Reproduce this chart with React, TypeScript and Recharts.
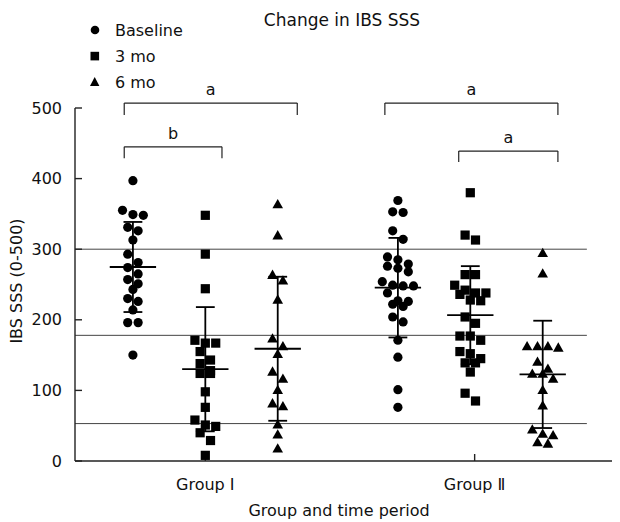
import React from "react";
import {
  Customized,
  ReferenceLine,
  Scatter,
  ScatterChart,
  XAxis,
  YAxis,
} from "recharts";

// categories
const groups = ["Group Ⅰ", "Group Ⅱ"];
const groupTicks = [1, 4.72];
const periods = ["Baseline", "3 mo", "6 mo"];
const columnCenters = [0, 1, 2, 3.66, 4.66, 5.66];

// IBS SSS per patient
const g1Baseline = [397, 355, 348, 349, 331, 326, 313, 293, 281, 274, 265, 257, 251, 243, 230, 226, 214, 196, 196, 150];
const g1Month3 = [348, 293, 244, 171, 167, 167, 155, 143, 138, 128, 124, 124, 98, 76, 58, 51, 49, 40, 29, 8];
const g1Month6 = [364, 320, 264, 256, 229, 174, 163, 152, 127, 117, 101, 82, 78, 52, 38, 18];
const g2Baseline = [369, 353, 352, 326, 314, 289, 285, 279, 276, 273, 268, 254, 249, 248, 248, 238, 227, 226, 222, 219, 204, 197, 171, 147, 101, 76];
const g2Month3 = [380, 320, 313, 264, 264, 249, 242, 238, 238, 236, 228, 227, 204, 195, 177, 177, 171, 155, 152, 145, 139, 139, 126, 96, 85];
const g2Month6 = [295, 266, 163, 163, 163, 161, 141, 131, 124, 124, 117, 101, 79, 45, 39, 37, 27, 25];

const columnValues = [g1Baseline, g1Month3, g1Month6, g2Baseline, g2Month3, g2Month6];
const columnMeans = [274.8, 130, 159, 245.5, 206.5, 122.7];
const columnSDs = [63.8, 88, 102, 70.5, 69.5, 76];

const referenceLevels = [300, 178, 53];
const yTicks = [0, 100, 200, 300, 400, 500];

const brackets = [
  { from: -0.12, to: 2.27, top: 507, bottom: 490, label: "a" },
  { from: -0.12, to: 1.23, top: 445, bottom: 429, label: "b" },
  { from: 3.48, to: 5.87, top: 507, bottom: 490, label: "a" },
  { from: 4.5, to: 5.87, top: 439, bottom: 423.5, label: "a" },
];

const W = 612;
const H = 514;
const margin = { top: 100, right: 2, bottom: 31, left: 5 };
const Y_AXIS_W = 62;
const X_AXIS_H = 30;
const X_DOMAIN: [number, number] = [-0.8, 6.7];
const pxPerX = (W - margin.left - margin.right - Y_AXIS_W) / (X_DOMAIN[1] - X_DOMAIN[0]);
const pxPerY = (H - margin.top - margin.bottom - X_AXIS_H) / 500;
const ROW_PX = 8.6;
const SLOT_PX = 10.4;
const FONT = "DejaVu Sans";

// simple column scatter layout: values close in height share a row, spread sideways
const swarm = (values: number[], center: number) => {
  const sorted = [...values].sort((a, b) => b - a);
  const rows: number[][] = [];
  sorted.forEach((v) => {
    const last = rows[rows.length - 1];
    if (last && (last[0] - v) * pxPerY < ROW_PX) last.push(v);
    else rows.push([v]);
  });
  return rows.flatMap((row) =>
    row.map((v, i) => ({
      x: center + ((i - (row.length - 1) / 2) * SLOT_PX) / pxPerX,
      y: v,
    }))
  );
};

const Dot = ({ cx, cy }: any) => <circle cx={cx} cy={cy} r={4.6} fill="#000" />;
const Square = ({ cx, cy }: any) => (
  <rect x={cx - 4.6} y={cy - 4.6} width={9.2} height={9.2} fill="#000" />
);
const Triangle = ({ cx, cy }: any) => (
  <polygon
    points={`${cx},${cy - 5} ${cx - 5.3},${cy + 4.3} ${cx + 5.3},${cy + 4.3}`}
    fill="#000"
  />
);
const shapes = [Dot, Square, Triangle];

const Overlay = () => (
  <g fontFamily={FONT} fill="#111">
    <text x={334} y={18} fontSize={17} textAnchor="middle">
      Change in IBS SSS
    </text>
    <circle cx={87} cy={22} r={4.3} fill="#000" />
    <rect x={82.5} y={43.8} width={8.6} height={8.6} fill="#000" />
    <polygon points="86.7,69 82,78 91.4,78" fill="#000" />
    {periods.map((p, i) => (
      <text key={p} x={107} y={[28, 54, 80][i]} fontSize={16}>
        {p}
      </text>
    ))}
    <text
      transform="translate(14,273) rotate(-90)"
      fontSize={16}
      textAnchor="middle"
    >
      IBS SSS (0-500)
    </text>
    <text x={331} y={508} fontSize={16} textAnchor="middle">
      Group and time period
    </text>
  </g>
);

export default function App() {
  return (
    <ScatterChart width={W} height={H} margin={margin} style={{ fontFamily: FONT }}>
      <XAxis
        type="number"
        dataKey="x"
        domain={X_DOMAIN}
        allowDataOverflow
        ticks={groupTicks}
        tickFormatter={(v) => groups[groupTicks.indexOf(v)]}
        height={X_AXIS_H}
        tickSize={-7}
        tickMargin={25}
        stroke="#222"
        strokeWidth={1.4}
        tick={{ fill: "#111", fontSize: 16 }}
      />
      <YAxis
        type="number"
        dataKey="y"
        domain={[0, 500]}
        ticks={yTicks}
        width={Y_AXIS_W}
        tickSize={-7}
        tickMargin={20}
        stroke="#222"
        strokeWidth={1.4}
        tick={{ fill: "#111", fontSize: 16 }}
      />
      {referenceLevels.map((lv) => (
        <ReferenceLine
          key={lv}
          segment={[
            { x: X_DOMAIN[0], y: lv },
            { x: 6.27, y: lv },
          ]}
          stroke="#444"
          strokeWidth={1}
        />
      ))}
      {columnValues.map((vals, i) => (
        <Scatter
          key={i}
          name={`${groups[Math.floor(i / 3)]} ${periods[i % 3]}`}
          data={swarm(vals, columnCenters[i])}
          shape={shapes[i % 3]}
          isAnimationActive={false}
        />
      ))}
      {columnCenters.map((c, i) => {
        const m = columnMeans[i];
        const s = columnSDs[i];
        return (
          <React.Fragment key={`err${i}`}>
            <ReferenceLine segment={[{ x: c, y: m - s }, { x: c, y: m + s }]} stroke="#000" strokeWidth={1.8} />
            <ReferenceLine segment={[{ x: c - 0.13, y: m + s }, { x: c + 0.13, y: m + s }]} stroke="#000" strokeWidth={1.8} />
            <ReferenceLine segment={[{ x: c - 0.13, y: m - s }, { x: c + 0.13, y: m - s }]} stroke="#000" strokeWidth={1.8} />
            <ReferenceLine segment={[{ x: c - 0.32, y: m }, { x: c + 0.32, y: m }]} stroke="#000" strokeWidth={1.8} />
          </React.Fragment>
        );
      })}
      {brackets.map((b, i) => (
        <React.Fragment key={`br${i}`}>
          <ReferenceLine
            segment={[{ x: b.from, y: b.top }, { x: b.to, y: b.top }]}
            stroke="#222"
            strokeWidth={1.2}
            ifOverflow="visible"
            label={{ value: b.label, position: "top", offset: 8, fill: "#111", fontSize: 16 }}
          />
          <ReferenceLine segment={[{ x: b.from, y: b.top }, { x: b.from, y: b.bottom }]} stroke="#222" strokeWidth={1.2} ifOverflow="visible" />
          <ReferenceLine segment={[{ x: b.to, y: b.top }, { x: b.to, y: b.bottom }]} stroke="#222" strokeWidth={1.2} ifOverflow="visible" />
        </React.Fragment>
      ))}
      <Customized component={Overlay} />
    </ScatterChart>
  );
}
